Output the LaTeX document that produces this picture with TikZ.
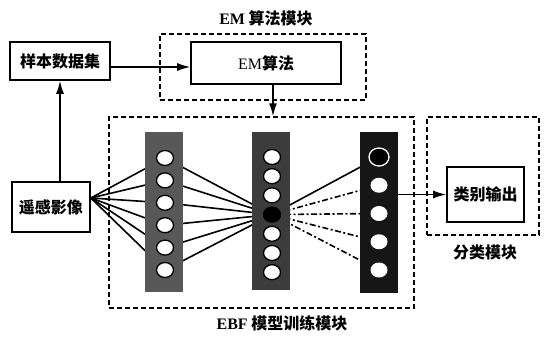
\documentclass[tikz,border=0pt]{standalone}
\usepackage{fontspec}
\setmainfont{Liberation Serif}
\newfontfamily\cjk{Noto Sans CJK SC}
\usetikzlibrary{arrows.meta,positioning,shapes.geometric,backgrounds}
\definecolor{layerlight}{HTML}{585858}
\definecolor{layermid}{HTML}{3C3C3C}
\definecolor{layerdark}{HTML}{161616}

\begin{document}
\begin{tikzpicture}[x=1pt, y=-1pt,
  box/.style={draw, line width=1.6pt, rectangle, fill=white, inner sep=0pt,
    font=\fontsize{16}{18}\selectfont\cjk\bfseries},
  group/.style={draw, line width=1.4pt, dash pattern=on 5pt off 3pt, rectangle, inner sep=0pt},
  caption/.style={font=\fontsize{16}{18}\selectfont\cjk\bfseries},
  layer/.style={rectangle, minimum width=38pt, inner sep=0pt},
  unit/.style={ellipse, draw, line width=1.3pt, fill=white, minimum width=17pt, minimum height=15pt, inner sep=0pt},
  link/.style={line width=1.6pt},
  dashdot/.style={dash pattern=on 6pt off 2.5pt on 2pt off 2.5pt},
  arrow/.style={line width=1.5pt, -{Latex[length=13pt,width=8pt]}}]
  \useasboundingbox (0,0) rectangle (546,339);

  % module frames
  \node[group, minimum width=206pt, minimum height=66pt] (emgroup) at (263,67) {};
  \node[group, minimum width=305pt, minimum height=191pt] (ebfgroup) at (261.5,212.5) {};
  \node[group, minimum width=112pt, minimum height=118pt] (clsgroup) at (483,176) {};

  \node[caption] (emcap) at (266,18) {{\rmfamily EM} 算法模块};
  \node[caption] (ebfcap) at (282,323) {{\rmfamily EBF} 模型训练模块};
  \node[caption] (clscap) at (485,252) {分类模块};

  % blocks
  \node[box, minimum width=100pt, minimum height=38pt] (sample) at (60,61) {样本数据集};
  \node[box, minimum width=150pt, minimum height=42pt] (em) at (266,63) {{\rmfamily\mdseries EM}算法};
  \node[box, minimum width=78pt, minimum height=50pt] (image) at (51,207) {遥感影像};
  \node[box, minimum width=77pt, minimum height=55pt] (output) at (485.5,194.5) {类别输出};

  % network layers
  \node[layer, fill=layerlight, minimum height=160pt] (col1) at (163.5,212) {};
  \node[layer, fill=layermid, minimum height=158pt] (col2) at (271,211) {};
  \node[layer, fill=layerdark, minimum height=161pt] (col3) at (379,212.5) {};

  \foreach \i in {1,...,6}
    \node[unit] (a\i) at (165,{158+22.4*(\i-1)}) {};
  \foreach \i/\c in {1/white,2/white,3/white,4/black,5/white,6/white,7/white}
    \node[unit, fill=\c] (b\i) at (272,{157+19.2*(\i-1)}) {};
  \node[unit, fill=black, draw=white, minimum width=20pt, minimum height=18pt] (c1) at (379,157) {};
  \foreach \i in {2,...,5}
    \node[unit, draw=none] (c\i) at (379,{157+28.25*(\i-1)}) {};

  \begin{scope}[on background layer]
    \foreach \i in {1,...,6}
      \draw[link] ([yshift=9pt]image.east) -- (a\i.center);
    \foreach \i in {1,...,6}
      \draw[link] (a\i.center) -- (b4.center);
    \draw[link] (b4.center) -- (c1.center);
    \foreach \i in {2,...,5}
      \draw[link, dashdot] (b4.center) -- (c\i.center);
  \end{scope}

  % arrows
  \draw[arrow] (sample.south |- image.north) -- (sample.south);
  \draw[arrow] ([yshift=-6pt]sample.east) -- ([yshift=-6pt]sample.east -| em.west);
  \draw[arrow] ([xshift=7pt]em.south) -- ([xshift=7pt]em.south |- ebfgroup.north);
  \draw[arrow] (col3.east |- output.west) -- (output.west);
\end{tikzpicture}
\end{document}
